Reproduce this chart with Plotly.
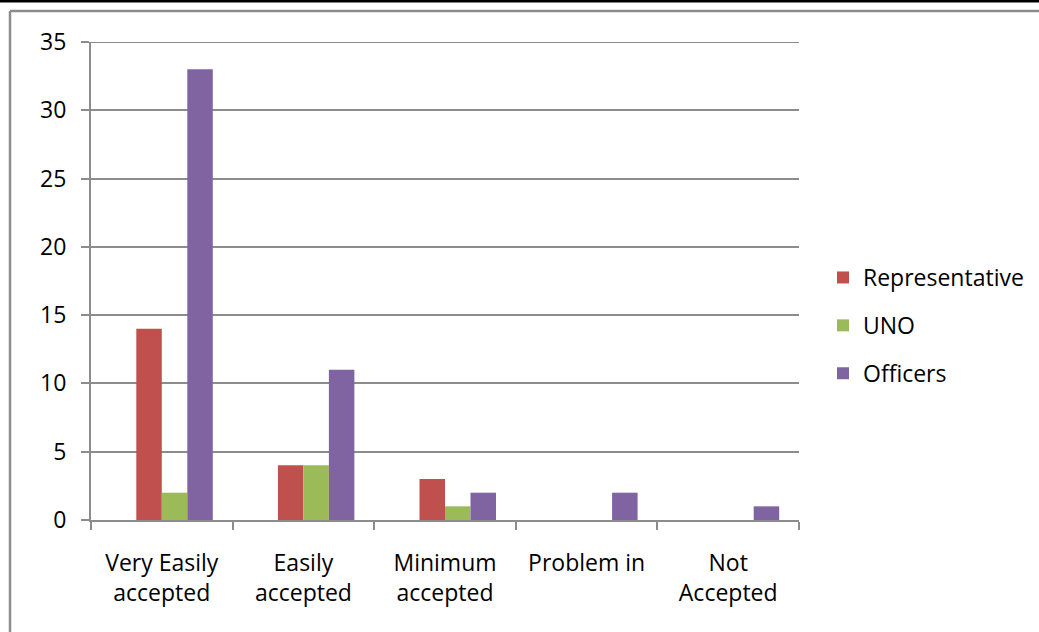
import plotly.graph_objects as go

# Survey responses on acceptance, grouped by respondent type
categories = ["Very Easily<br>accepted", "Easily<br>accepted", "Minimum<br>accepted",
              "Problem in", "Not<br>Accepted"]
representative = [14, 4, 3, 0, 0]
uno = [2, 4, 1, 0, 0]
officers = [33, 11, 2, 2, 1]

series = [
    ("Representative", representative, "#C0504D", -0.18),
    ("UNO", uno, "#9BBB59", 0.0),
    ("Officers", officers, "#8064A2", 0.18),
]

W, H = 1039, 632
L, R, T, B = 91, 240, 42, 112
pw, ph = W - L - R, H - T - B

def px_x(x):
    return (x - L) / pw

def px_y(y):
    return (H - B - y) / ph

FONT = "Open Sans, Noto Sans, sans-serif"
GRID = "#8C8C8C"
Y_MAX = 35

fig = go.Figure()
for i, (name, vals, color, off) in enumerate(series):
    fig.add_trace(go.Bar(
        x=categories, y=vals, name=name,
        marker=dict(color=color, line=dict(width=0)),
        width=0.18, offset=off,
        legendgroup=f"g{i}",
    ))

fig.update_layout(
    width=W, height=H,
    margin=dict(l=L, r=R, t=T, b=B, pad=0, autoexpand=False),
    paper_bgcolor="white", plot_bgcolor="white",
    font=dict(family=FONT, size=23, color="#000000"),
    showlegend=True,
    legend=dict(x=px_x(823), y=px_y(256), xanchor="left", yanchor="top",
                font=dict(size=23), tracegroupgap=15, bgcolor="rgba(0,0,0,0)",
                itemclick=False),
    xaxis=dict(
        type="category", range=[-0.5, 4.5],
        showline=True, linecolor=GRID, linewidth=2,
        ticks="outside", tickson="boundaries", ticklen=8, tickcolor=GRID, tickwidth=2,
        showgrid=False, ticklabelstandoff=21,
    ),
    yaxis=dict(
        range=[0, Y_MAX], dtick=5, tick0=0,
        showline=True, linecolor=GRID, linewidth=2,
        ticks="outside", ticklen=8, tickcolor=GRID, tickwidth=2,
        showgrid=True, gridcolor=GRID, gridwidth=2,
        zeroline=False, ticklabelstandoff=10,
    ),
    shapes=[
        # top gridline at the axis maximum
        dict(type="line", xref="paper", yref="y",
             x0=0, x1=1, y0=Y_MAX, y1=Y_MAX,
             line=dict(color=GRID, width=2)),
        # black rule along the top edge
        dict(type="rect", xref="paper", yref="paper",
             x0=px_x(0), x1=px_x(W), y0=px_y(2.5), y1=px_y(-1),
             fillcolor="black", line=dict(width=0)),
        # chart area frame
        dict(type="line", xref="paper", yref="paper",
             x0=px_x(10), x1=px_x(W + 5), y0=px_y(11), y1=px_y(11),
             line=dict(color="#8C8C8C", width=2.5)),
        dict(type="line", xref="paper", yref="paper",
             x0=px_x(10), x1=px_x(10), y0=px_y(11), y1=px_y(H + 5),
             line=dict(color="#8C8C8C", width=2.5)),
    ],
)

fig.write_html("out.html")
